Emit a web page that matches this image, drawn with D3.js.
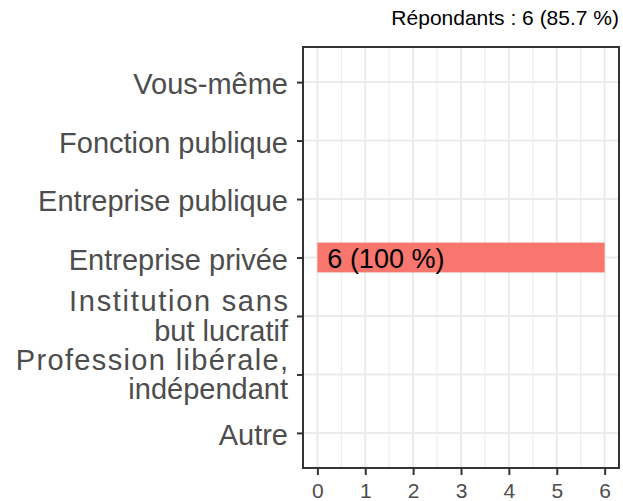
<!DOCTYPE html>
<html>
<head>
<meta charset="utf-8">
<script src="https://cdn.jsdelivr.net/npm/d3@7"></script>
<style>
	body { margin: 0; background: #fff; }
	svg { display: block; font-family: "Liberation Sans", Arial, sans-serif; }
</style>
</head>
<body>
<div id="chart"></div>
<script>
(function() {

// categories, top to bottom
const categories = [
	["Vous-même"],
	["Fonction publique"],
	["Entreprise publique"],
	["Entreprise privée"],
	["Institution sans", "but lucratif"],
	["Profession libérale,", "indépendant"],
	["Autre"]
];
const counts = [0, 0, 0, 6, 0, 0, 0];
const barLabels = ["", "", "", "6 (100 %)", "", "", ""];
const xTicks = [0, 1, 2, 3, 4, 5, 6];
const minorTicks = [0.5, 1.5, 2.5, 3.5, 4.5, 5.5];
const title = "Répondants : 6 (85.7 %)";

const width = 623, height = 501;
const panel = { left: 303, right: 619, top: 47, bottom: 468 };

// the wrapped first lines render a bit wider in the original
const wideLines = { "Institution sans": 1.7, "Profession libérale,": 1.35 };

const svg = d3.select("#chart").append("svg")
	.attr("width", width)
	.attr("height", height);

const x = d3.scaleLinear()
	.domain([-0.3, 6.3])
	.range([panel.left, panel.right]);

const keys = categories.map(function(d) { return d.join(" "); });
const y = d3.scalePoint()
	.domain(keys)
	.range([panel.top, panel.bottom])
	.padding(0.6);
const step = y.step();

// grid
svg.append("g").selectAll("line.minor")
	.data(minorTicks)
	.enter().append("line")
	.attr("x1", function(d) { return x(d); })
	.attr("x2", function(d) { return x(d); })
	.attr("y1", panel.top).attr("y2", panel.bottom)
	.attr("stroke", "#ebebeb").attr("stroke-width", 1);

svg.append("g").selectAll("line.major")
	.data(xTicks)
	.enter().append("line")
	.attr("x1", function(d) { return x(d); })
	.attr("x2", function(d) { return x(d); })
	.attr("y1", panel.top).attr("y2", panel.bottom)
	.attr("stroke", "#ebebeb").attr("stroke-width", 2);

svg.append("g").selectAll("line.hgrid")
	.data(keys)
	.enter().append("line")
	.attr("x1", panel.left).attr("x2", panel.right)
	.attr("y1", function(d) { return y(d); })
	.attr("y2", function(d) { return y(d); })
	.attr("stroke", "#ebebeb").attr("stroke-width", 2);

// bars
const barH = step * 0.51;
svg.append("g").selectAll("rect")
	.data(counts)
	.enter().append("rect")
	.attr("x", x(0))
	.attr("y", function(d, i) { return y(keys[i]) - barH / 2; })
	.attr("width", function(d) { return x(d) - x(0); })
	.attr("height", barH)
	.attr("fill", "#F8766D");

svg.append("g").selectAll("text")
	.data(barLabels)
	.enter().append("text")
	.attr("x", x(0) + 10)
	.attr("y", function(d, i) { return y(keys[i]) + 10.5; })
	.attr("font-size", 27)
	.attr("fill", "#000")
	.text(function(d) { return d; });

// panel border
svg.append("rect")
	.attr("x", panel.left).attr("y", panel.top)
	.attr("width", panel.right - panel.left)
	.attr("height", panel.bottom - panel.top)
	.attr("fill", "none")
	.attr("stroke", "#333").attr("stroke-width", 2);

// y axis
const yAxis = d3.axisLeft(y).tickSize(5).tickFormat("");
const gy = svg.append("g")
	.attr("transform", "translate(" + (panel.left - 1) + ",0)")
	.call(yAxis);
gy.select(".domain").remove();
gy.selectAll(".tick line").attr("stroke", "#333").attr("stroke-width", 2);

const lineH = 29.3;
gy.selectAll(".tick").each(function(d, i) {
	const lines = categories[i];
	lines.forEach(function(l, j) {
		const ls = wideLines[l] || 0;
		d3.select(this).append("text")
			.attr("x", -14 + ls)
			.attr("y", 11.5 - (lines.length - 1) * 16.5 + j * lineH)
			.attr("text-anchor", "end")
			.attr("fill", "#4d4d4d")
			.attr("font-size", 29)
			.style("letter-spacing", ls + "px")
			.text(l);
	}, this);
});

// x axis
const xAxis = d3.axisBottom(x).tickValues(xTicks).tickFormat(d3.format("d"))
	.tickSize(6).tickPadding(8);
const gx = svg.append("g")
	.attr("transform", "translate(0," + (panel.bottom + 1) + ")")
	.call(xAxis);
gx.select(".domain").remove();
gx.selectAll(".tick line").attr("stroke", "#333").attr("stroke-width", 2);
gx.selectAll(".tick text")
	.attr("fill", "#4d4d4d")
	.attr("font-size", 21)
	.attr("font-family", "Liberation Sans, Arial, sans-serif");

// title
svg.append("text")
	.attr("x", panel.right)
	.attr("y", 25)
	.attr("text-anchor", "end")
	.attr("font-size", 21)
	.attr("fill", "#000")
	.text(title);

})();
</script>
</body>
</html>
